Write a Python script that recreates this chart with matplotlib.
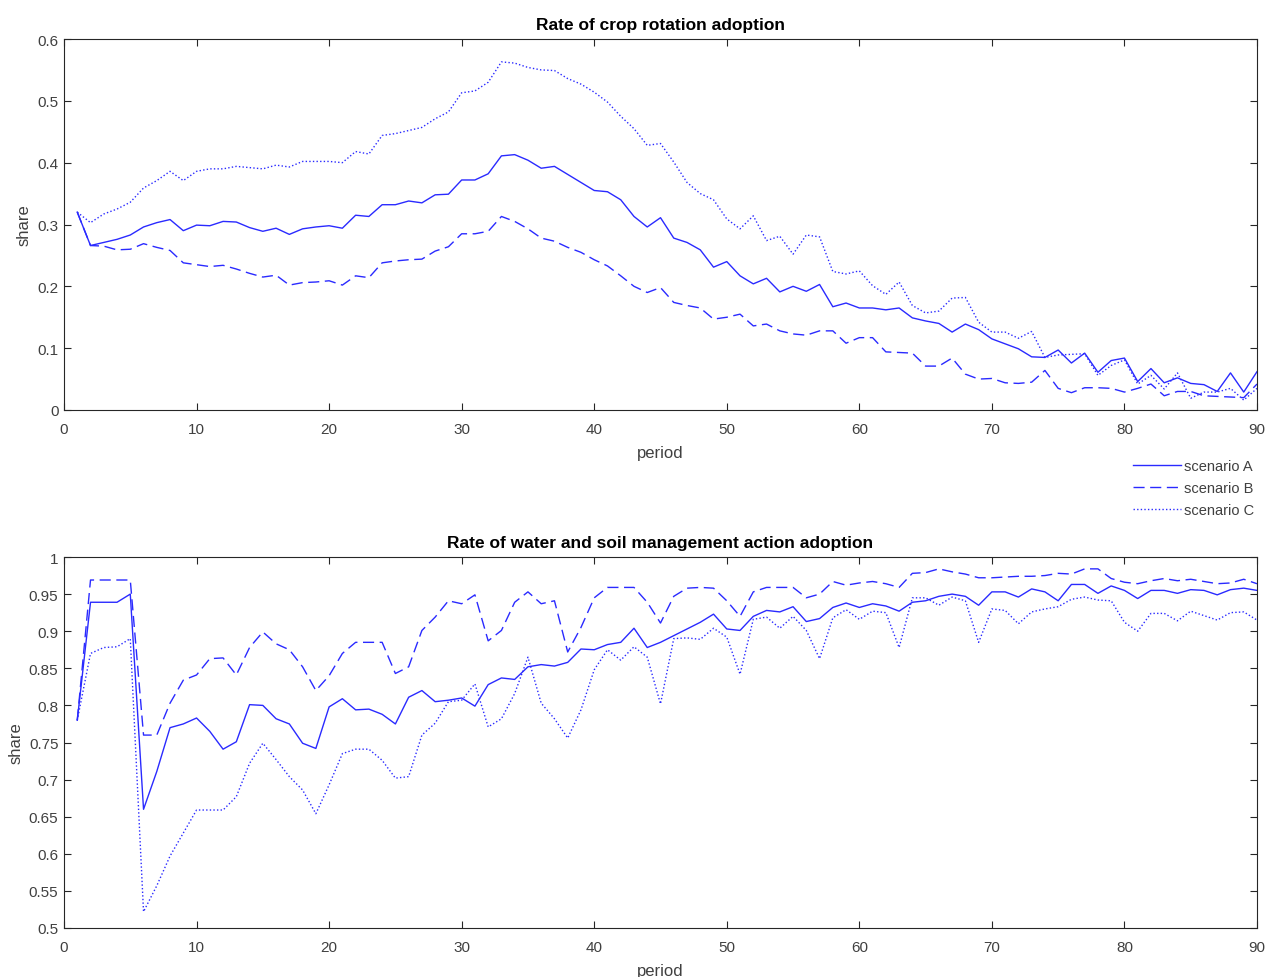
import numpy as np
import matplotlib
matplotlib.use("Agg")
import matplotlib.pyplot as plt

plt.rcParams['font.family'] = ['Liberation Sans', 'DejaVu Sans']

period = list(range(1, 91))

crop_A = [0.320, 0.266, 0.271, 0.276, 0.283, 0.296, 0.303, 0.308, 0.290, 0.299,
          0.298, 0.305, 0.304, 0.295, 0.289, 0.294, 0.284, 0.293, 0.296, 0.298,
          0.294, 0.315, 0.313, 0.332, 0.332, 0.338, 0.335, 0.348, 0.349, 0.372,
          0.372, 0.382, 0.411, 0.413, 0.404, 0.391, 0.394, 0.381, 0.368, 0.355,
          0.353, 0.340, 0.313, 0.296, 0.311, 0.278, 0.271, 0.259, 0.231, 0.240,
          0.217, 0.204, 0.213, 0.191, 0.200, 0.192, 0.203, 0.167, 0.173, 0.165,
          0.165, 0.162, 0.165, 0.149, 0.144, 0.140, 0.126, 0.139, 0.130, 0.115,
          0.107, 0.099, 0.086, 0.085, 0.097, 0.076, 0.092, 0.061, 0.080, 0.084,
          0.046, 0.067, 0.044, 0.052, 0.043, 0.041, 0.030, 0.060, 0.029, 0.062]

crop_B = [0.320, 0.266, 0.265, 0.259, 0.260, 0.269, 0.263, 0.258, 0.238, 0.235,
          0.232, 0.234, 0.228, 0.221, 0.215, 0.218, 0.202, 0.206, 0.207, 0.209,
          0.202, 0.217, 0.214, 0.238, 0.241, 0.243, 0.244, 0.257, 0.264, 0.285,
          0.285, 0.289, 0.313, 0.305, 0.293, 0.278, 0.273, 0.263, 0.255, 0.243,
          0.233, 0.217, 0.200, 0.190, 0.198, 0.174, 0.169, 0.165, 0.147, 0.150,
          0.155, 0.136, 0.139, 0.128, 0.123, 0.121, 0.128, 0.128, 0.108, 0.117,
          0.117, 0.094, 0.093, 0.092, 0.071, 0.071, 0.084, 0.058, 0.050, 0.051,
          0.044, 0.043, 0.045, 0.064, 0.035, 0.028, 0.036, 0.036, 0.035, 0.029,
          0.035, 0.042, 0.023, 0.030, 0.030, 0.023, 0.022, 0.021, 0.020, 0.042]

crop_C = [0.320, 0.303, 0.317, 0.325, 0.336, 0.359, 0.371, 0.386, 0.371, 0.386,
          0.390, 0.390, 0.394, 0.392, 0.390, 0.396, 0.393, 0.402, 0.402, 0.402,
          0.400, 0.418, 0.414, 0.444, 0.447, 0.452, 0.457, 0.471, 0.482, 0.513,
          0.516, 0.530, 0.563, 0.561, 0.554, 0.550, 0.549, 0.536, 0.527, 0.514,
          0.498, 0.475, 0.455, 0.428, 0.431, 0.401, 0.368, 0.350, 0.340, 0.309,
          0.293, 0.314, 0.274, 0.281, 0.252, 0.283, 0.280, 0.224, 0.220, 0.225,
          0.201, 0.187, 0.207, 0.169, 0.157, 0.160, 0.181, 0.182, 0.142, 0.126,
          0.126, 0.116, 0.127, 0.085, 0.089, 0.090, 0.091, 0.056, 0.072, 0.081,
          0.042, 0.056, 0.034, 0.060, 0.019, 0.029, 0.029, 0.035, 0.016, 0.035]

water_A = [0.780, 0.939, 0.939, 0.939, 0.950, 0.660, 0.711, 0.770, 0.775, 0.783,
           0.765, 0.741, 0.751, 0.801, 0.800, 0.782, 0.775, 0.749, 0.742, 0.798,
           0.809, 0.794, 0.795, 0.788, 0.775, 0.811, 0.820, 0.805, 0.807, 0.810,
           0.799, 0.828, 0.837, 0.835, 0.852, 0.855, 0.853, 0.858, 0.876, 0.875,
           0.882, 0.885, 0.904, 0.878, 0.885, 0.894, 0.903, 0.912, 0.923, 0.903,
           0.901, 0.920, 0.928, 0.926, 0.933, 0.913, 0.917, 0.932, 0.938, 0.932,
           0.937, 0.934, 0.927, 0.939, 0.941, 0.947, 0.950, 0.947, 0.935, 0.953,
           0.953, 0.946, 0.957, 0.953, 0.941, 0.963, 0.963, 0.951, 0.961, 0.955,
           0.944, 0.955, 0.955, 0.951, 0.956, 0.955, 0.949, 0.956, 0.958, 0.955]

water_B = [0.780, 0.969, 0.969, 0.969, 0.969, 0.760, 0.760, 0.803, 0.834, 0.841,
           0.863, 0.864, 0.841, 0.878, 0.899, 0.883, 0.875, 0.852, 0.820, 0.840,
           0.870, 0.885, 0.885, 0.885, 0.843, 0.852, 0.901, 0.919, 0.941, 0.937,
           0.949, 0.887, 0.901, 0.939, 0.953, 0.937, 0.941, 0.872, 0.905, 0.945,
           0.959, 0.959, 0.959, 0.939, 0.911, 0.947, 0.958, 0.959, 0.958, 0.941,
           0.920, 0.953, 0.959, 0.959, 0.959, 0.945, 0.950, 0.967, 0.962, 0.965,
           0.967, 0.964, 0.959, 0.978, 0.979, 0.984, 0.980, 0.977, 0.972, 0.972,
           0.973, 0.974, 0.974, 0.975, 0.978, 0.977, 0.984, 0.984, 0.971, 0.966,
           0.964, 0.968, 0.971, 0.968, 0.970, 0.967, 0.964, 0.965, 0.970, 0.964]

water_C = [0.780, 0.870, 0.878, 0.879, 0.890, 0.522, 0.557, 0.597, 0.628, 0.659,
           0.659, 0.659, 0.677, 0.722, 0.749, 0.727, 0.704, 0.686, 0.654, 0.693,
           0.735, 0.741, 0.741, 0.726, 0.702, 0.704, 0.760, 0.776, 0.805, 0.807,
           0.829, 0.771, 0.782, 0.816, 0.865, 0.803, 0.782, 0.756, 0.794, 0.848,
           0.875, 0.861, 0.879, 0.865, 0.802, 0.890, 0.891, 0.889, 0.904, 0.892,
           0.842, 0.916, 0.919, 0.904, 0.920, 0.901, 0.863, 0.918, 0.929, 0.916,
           0.927, 0.925, 0.878, 0.945, 0.945, 0.935, 0.946, 0.941, 0.885, 0.930,
           0.928, 0.910, 0.926, 0.930, 0.933, 0.943, 0.946, 0.942, 0.941, 0.912,
           0.900, 0.924, 0.924, 0.914, 0.927, 0.921, 0.915, 0.925, 0.926, 0.915]

labels = ['scenario A', 'scenario B', 'scenario C']
color = '#2a2aff'
styles = [dict(linestyle='-'), dict(linestyle=(0, (8, 4))), dict(linestyle=(0, (1, 1.6)))]

fig = plt.figure(figsize=(12.68, 9.78), dpi=100)
ax1 = fig.add_axes([64/1268, 1-411/978, 1193/1268, 371/978])
ax2 = fig.add_axes([64/1268, 1-929/978, 1193/1268, 371/978])

axcol = '#262626'
txtcol = '#404040'
for ax in (ax1, ax2):
    for s in ax.spines.values():
        s.set_color(axcol)
        s.set_linewidth(0.8)
    ax.tick_params(direction='in', top=True, right=True, colors=axcol,
                   labelsize=11, length=5, width=0.8, labelcolor=txtcol)
    ax.tick_params(axis='x', pad=9)
    ax.tick_params(axis='y', pad=4)
    ax.set_xlim(0, 90)
    ax.set_xticks(range(0, 91, 10))
    ax.set_xlabel('period', fontsize=12, color=txtcol, labelpad=6)
    ax.set_ylabel('share', fontsize=12, color=txtcol, labelpad=4)

lines = []
for series, st in zip([crop_A, crop_B, crop_C], styles):
    l, = ax1.plot(period, series, color=color, linewidth=1.0, **st)
    lines.append(l)
ax1.set_ylim(0, 0.6)
ax1.set_yticks(np.arange(0, 0.61, 0.1))
ax1.set_yticklabels(['0', '0.1', '0.2', '0.3', '0.4', '0.5', '0.6'])
ax1.set_title('Rate of crop rotation adoption', fontsize=12.5, fontweight='bold', pad=7)

for series, st in zip([water_A, water_B, water_C], styles):
    ax2.plot(period, series, color=color, linewidth=1.0, **st)
ax2.set_ylim(0.5, 1.0)
yt = np.arange(0.5, 1.001, 0.05)
ax2.set_yticks(yt)
ax2.set_yticklabels(['0.5', '0.55', '0.6', '0.65', '0.7', '0.75', '0.8', '0.85', '0.9', '0.95', '1'])
ax2.set_title('Rate of water and soil management action adoption', fontsize=12.5,
              fontweight='bold', pad=7)

fig.legend(lines, labels, loc='upper right', bbox_to_anchor=(1257/1268, 1-457/978),
           frameon=False, fontsize=10.5, handlelength=3.3, handletextpad=0.2,
           labelspacing=0.55, borderpad=0.2, borderaxespad=0, labelcolor=txtcol)

fig.savefig('out.png', dpi=100, facecolor='white')
